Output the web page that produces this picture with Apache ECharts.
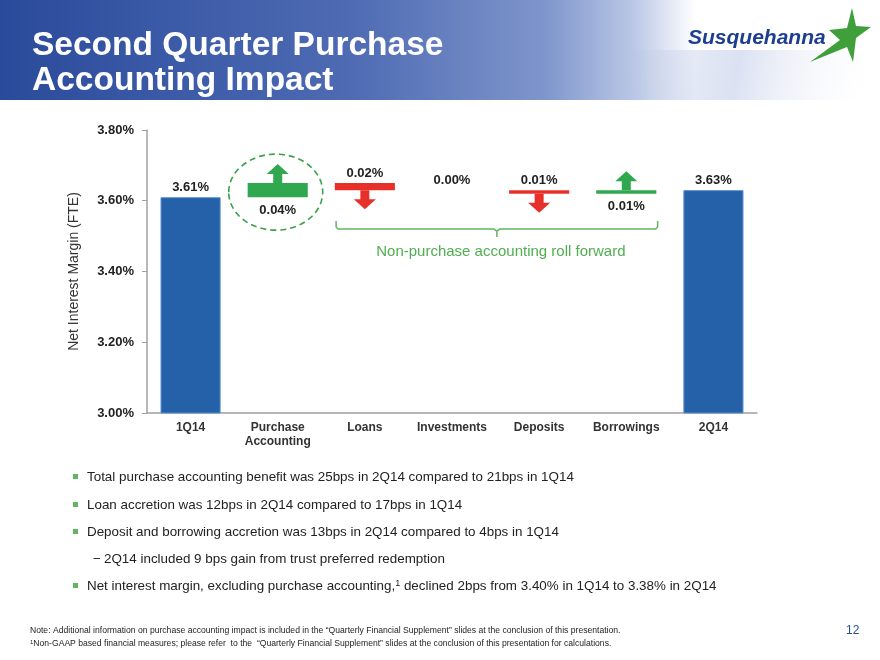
<!DOCTYPE html>
<html>
<head>
<meta charset="utf-8">
<script src="https://cdn.jsdelivr.net/npm/echarts@6/dist/echarts.min.js"></script>
<style>
  html, body { margin: 0; padding: 0; background: #fff; }
  #main { width: 880px; height: 660px; }
</style>
</head>
<body>
<div id="main"></div>
<script>
// chart data
const categories = ['1Q14', 'Purchase\nAccounting', 'Loans', 'Investments', 'Deposits', 'Borrowings', '2Q14'];
const totals = [3.61, null, null, null, null, null, 3.63];
const changes = [null, 0.04, -0.02, 0.00, -0.01, 0.01, null];
const yMin = 3.0, yMax = 3.8, yStep = 0.2;
const highlightIndex = 1;
const bracketFrom = 2, bracketTo = 5;
const bracketNote = 'Non-purchase accounting roll forward';

const titleText = 'Second Quarter Purchase\nAccounting Impact';
const bullets = [
  { lvl: 0, text: 'Total purchase accounting benefit was 25bps in 2Q14 compared to 21bps in 1Q14' },
  { lvl: 0, text: 'Loan accretion was 12bps in 2Q14 compared to 17bps in 1Q14' },
  { lvl: 0, text: 'Deposit and borrowing accretion was 13bps in 2Q14 compared to 4bps in 1Q14' },
  { lvl: 1, text: '2Q14 included 9 bps gain from trust preferred redemption' },
  { lvl: 0, text: 'Net interest margin, excluding purchase accounting,{sup|1} declined 2bps from 3.40% in 1Q14 to 3.38% in 2Q14' }
];
const notes = [
  'Note: Additional information on purchase accounting impact is included in the \u201cQuarterly Financial Supplement\u201d slides at the conclusion of this presentation.',
  '{sup|1}Non-GAAP based financial measures; please refer  to the  \u201cQuarterly Financial Supplement\u201d slides at the conclusion of this presentation for calculations.'
];
const pageNo = '12';

const FONT = 'Arial, "Liberation Sans", sans-serif';
const BLUE = '#2461a8', GREEN = '#2fa84f', RED = '#e8302a', LINE_GREEN = '#62b562';

// waterfall steps: [category, from, to]
const steps = [];
let level = totals[0];
changes.forEach((c, i) => {
  if (c === null) return;
  const next = Math.round((level + c) * 100) / 100;
  steps.push([i, level, next]);
  level = next;
});

function renderChange(params, api) {
  const i = api.value(0), from = api.value(1), to = api.value(2);
  const a = api.coord([i, from]), b = api.coord([i, to]);
  const bw = api.size([1, 0])[0] * 0.69;
  const cx = a[0];
  const top = Math.min(a[1], b[1]), bottom = Math.max(a[1], b[1]);
  const up = to > from, down = to < from;
  const color = up ? GREEN : RED;
  const kids = [];
  if (up || down) {
    kids.push({ type: 'rect', shape: { x: cx - bw / 2, y: top, width: bw, height: bottom - top }, style: { fill: color } });
    const base = up ? top : bottom, d = up ? -1 : 1;
    kids.push({
      type: 'polygon',
      shape: { points: [[cx - 4.5, base], [cx - 4.5, base + d * 9], [cx - 11, base + d * 9], [cx, base + d * 19],
                        [cx + 11, base + d * 9], [cx + 4.5, base + d * 9], [cx + 4.5, base]] },
      style: { fill: color }
    });
  }
  kids.push({
    type: 'text',
    style: {
      text: Math.abs(to - from).toFixed(2) + '%', x: cx, y: up ? bottom + 13 : top - 10,
      textAlign: 'center', textVerticalAlign: 'middle', fill: '#222', font: 'bold 13px ' + FONT
    }
  });
  if (i === highlightIndex) {
    kids.push({
      type: 'ellipse',
      shape: { cx: cx - 2, cy: (top + bottom) / 2 + 2, rx: 47, ry: 38 },
      style: { fill: 'none', stroke: '#3aa14a', lineWidth: 1.6, lineDash: [6, 4] }
    });
  }
  return { type: 'group', children: kids };
}

const chart = echarts.init(document.getElementById('main'));

const headerGraphics = [
  {
    type: 'rect', z: -10, shape: { x: 0, y: 0, width: 880, height: 100 },
    style: { fill: new echarts.graphic.LinearGradient(0, 0, 1, 0, [
      { offset: 0, color: '#2a4a9b' }, { offset: 0.4, color: '#4e6bb3' },
      { offset: 0.62, color: '#7f96cc' }, { offset: 0.72, color: '#bac7e6' },
      { offset: 0.79, color: '#ffffff' }, { offset: 1, color: '#ffffff' }]) }
  },
  {
    type: 'rect', z: -9, shape: { x: 620, y: 50, width: 260, height: 50 },
    style: { fill: new echarts.graphic.LinearGradient(0, 0, 1, 1, [
      { offset: 0, color: 'rgba(170,185,222,0.0)' }, { offset: 0.45, color: 'rgba(195,206,234,0.6)' },
      { offset: 1, color: 'rgba(255,255,255,0)' }]) }
  },
  {
    type: 'text', left: 688, top: 28,
    style: { text: 'Susquehanna', fill: '#1d3d8f', font: 'italic bold 21px ' + FONT }
  },
  {
    type: 'polygon',
    shape: { points: [[852, 8], [856, 26], [871, 27], [856, 38], [853, 62], [847, 47], [810, 62], [840, 40], [829, 30], [847, 28]] },
    style: { fill: '#3f9f3a' }
  }
];

const bulletY = [477, 505, 532, 559, 586];
const textGraphics = [];
bullets.forEach((b, k) => {
  const y = bulletY[k];
  if (b.lvl === 0) {
    textGraphics.push({ type: 'rect', shape: { x: 73, y: y - 3, width: 5, height: 5 }, style: { fill: '#62b562' } });
  } else {
    textGraphics.push({ type: 'text', x: 93, y: y, style: { text: '\u2212', fill: '#222', font: '13.4px ' + FONT, textVerticalAlign: 'middle' } });
  }
  textGraphics.push({
    type: 'text', x: b.lvl === 0 ? 87 : 104, y: y,
    style: {
      text: b.text, fill: '#222', font: '13.4px ' + FONT, textVerticalAlign: 'middle',
      rich: { sup: { fontSize: 9, verticalAlign: 'top', lineHeight: 10, fill: '#222', fontFamily: FONT } }
    }
  });
});
notes.forEach((n, k) => {
  textGraphics.push({
    type: 'text', x: 30, y: 631 + k * 13,
    style: {
      text: n, fill: '#222', font: '8.6px ' + FONT, textVerticalAlign: 'middle',
      rich: { sup: { fontSize: 6, verticalAlign: 'top', lineHeight: 7, fill: '#222', fontFamily: FONT } }
    }
  });
});
textGraphics.push({
  type: 'text', x: 846, y: 631,
  style: { text: pageNo, fill: '#2a4c9a', font: '12px ' + FONT, textVerticalAlign: 'middle' }
});

const option = {
  backgroundColor: '#fff',
  animation: false,
  title: {
    text: titleText, left: 27, top: 23,
    textStyle: { color: '#fff', fontSize: 33.5, fontWeight: 'bold', lineHeight: 35, fontFamily: FONT }
  },
  grid: { left: 147, right: 123, top: 130, bottom: 247 },
  xAxis: {
    type: 'category', data: categories,
    axisLine: { lineStyle: { color: '#a0a0a0', width: 1.5 } },
    axisTick: { length: 4, lineStyle: { color: '#a0a0a0' } },
    axisLabel: { interval: 0, color: '#333', fontWeight: 'bold', fontSize: 12, fontFamily: FONT, margin: 8, lineHeight: 14 }
  },
  yAxis: {
    type: 'value', min: yMin, max: yMax, interval: yStep,
    name: 'Net Interest Margin (FTE)', nameLocation: 'middle', nameRotate: 90, nameGap: 66,
    nameTextStyle: { color: '#333', fontSize: 14, fontFamily: FONT },
    axisLine: { show: true, lineStyle: { color: '#a0a0a0', width: 1.5 } },
    axisTick: { show: true, length: 5, lineStyle: { color: '#a0a0a0' } },
    splitLine: { show: false },
    axisLabel: {
      color: '#222', fontWeight: 'bold', fontSize: 13, fontFamily: FONT, margin: 13,
      formatter: v => v.toFixed(2) + '%'
    }
  },
  series: [
    {
      type: 'bar', data: totals, barWidth: '69%',
      itemStyle: { color: BLUE, borderColor: '#5b8fd0', borderWidth: 1 },
      label: {
        show: true, position: 'top', distance: 3, color: '#222', fontWeight: 'bold', fontSize: 13, fontFamily: FONT,
        formatter: p => p.value.toFixed(2) + '%'
      }
    },
    {
      type: 'custom', data: steps, renderItem: renderChange, z: 5
    }
  ],
  graphic: headerGraphics.concat(textGraphics)
};
chart.setOption(option);

// bracket under the non-purchase steps, placed from the axis scales
const halfBar = chart.convertToPixel({ xAxisIndex: 0 }, 1) - chart.convertToPixel({ xAxisIndex: 0 }, 0);
const bL = chart.convertToPixel({ xAxisIndex: 0 }, bracketFrom) - halfBar * 0.33;
const bR = chart.convertToPixel({ xAxisIndex: 0 }, bracketTo) + halfBar * 0.36;
const bM = (bL + bR) / 2;
const bY = chart.convertToPixel({ yAxisIndex: 0 }, 3.52);
chart.setOption({
  graphic: headerGraphics.concat(textGraphics).concat([
    {
      type: 'polyline',
      shape: { points: [[bL, bY - 8], [bL, bY - 2], [bL + 2, bY], [bM - 3, bY], [bM, bY + 2], [bM, bY + 8], [bM, bY + 2], [bM + 3, bY], [bR - 2, bY], [bR, bY - 2], [bR, bY - 8]] },
      style: { stroke: LINE_GREEN, lineWidth: 1.5, fill: 'none' }
    },
    {
      type: 'text', x: bM + 4, y: bY + 23,
      style: { text: bracketNote, fill: '#4fae4f', font: '15px ' + FONT, textAlign: 'center', textVerticalAlign: 'middle' }
    }
  ])
});
</script>
</body>
</html>
